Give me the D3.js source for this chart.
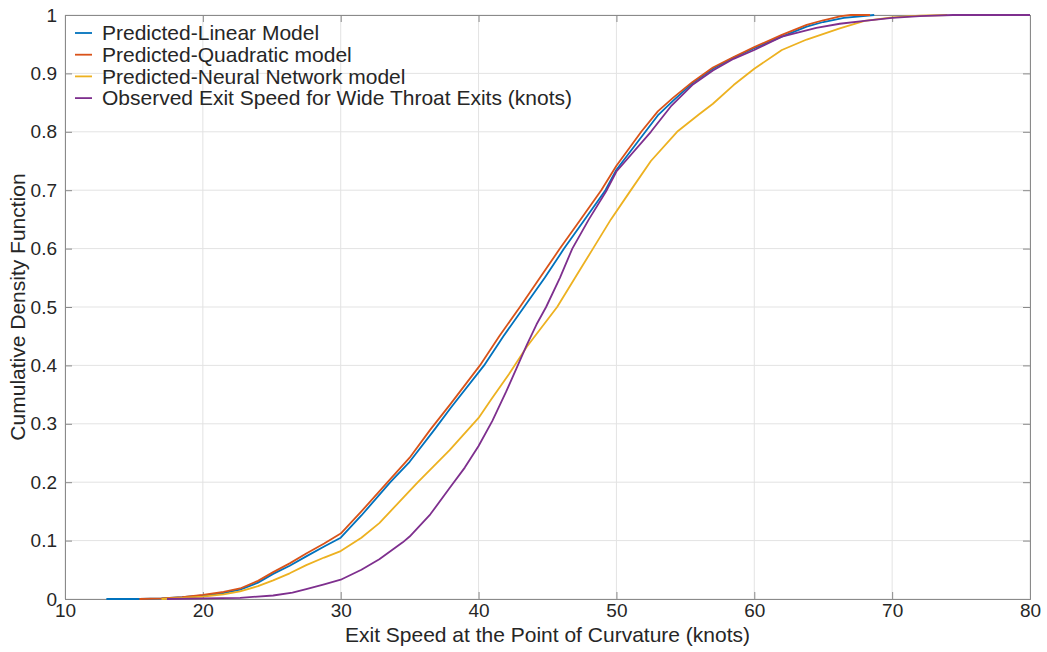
<!DOCTYPE html>
<html><head><meta charset="utf-8">
<script src="https://cdn.jsdelivr.net/npm/d3@7"></script>
<style>
html,body{margin:0;padding:0;background:#fff;}
svg text{font-family:"Liberation Sans",Arial,Helvetica,sans-serif;fill:#262626;}
</style></head>
<body><svg id="c" width="1047" height="652"></svg>
<script>
// ---- data ----
const seriesNames = ["Predicted-Linear Model","Predicted-Quadratic model","Predicted-Neural Network model","Observed Exit Speed for Wide Throat Exits (knots)"];
const seriesColors = ["#0072BD","#D95319","#EDB120","#7E2F8E"];
const xTicks = [10,20,30,40,50,60,70,80];
const yTicks = [0,0.1,0.2,0.3,0.4,0.5,0.6,0.7,0.8,0.9,1];
const yTickLabels = ["0","0.1","0.2","0.3","0.4","0.5","0.6","0.7","0.8","0.9","1"];

const linearX = [13,15.4,17,18.5,20,21.5,22.7,24,25.1,26.3,27.5,28.8,30,31.5,33.6,35,36.8,38,40.4,41.8,43.3,44.8,46.2,47.7,49.2,50,52.1,53,54.1,55.5,57,58.5,60,62,63.8,65,66.5,68.7];
const linearP = [0,0,0.001,0.003,0.006,0.010,0.016,0.028,0.043,0.057,0.073,0.09,0.105,0.143,0.2,0.235,0.29,0.328,0.4,0.45,0.5,0.55,0.6,0.65,0.7,0.735,0.8,0.828,0.853,0.883,0.908,0.927,0.943,0.963,0.98,0.988,0.995,1];

const quadX = [15.4,17,18.5,20,21.5,22.7,24,25.1,26.3,27.5,28.8,30,31.5,33.4,35,36.5,38,40.1,41.5,43,44.5,45.9,47.4,48.9,50,51.8,53,54.1,55.5,57,58.5,60,62,63.8,65,66.3,67,68.4];
const quadP = [0,0.001,0.003,0.007,0.012,0.018,0.031,0.046,0.061,0.078,0.095,0.112,0.15,0.2,0.242,0.29,0.335,0.4,0.45,0.5,0.552,0.6,0.65,0.7,0.742,0.8,0.835,0.858,0.885,0.91,0.928,0.945,0.966,0.983,0.991,0.998,1,1];

const nnX = [17,18.5,20,21.5,22.7,24,25.1,26.3,27.5,28.8,30,31.5,32.8,35,35.6,37.9,40,40.9,42.2,43.5,45.7,47,48.3,49.6,50.9,52.5,54.4,56,57,58.5,60,62,63.8,66.2,68,70,72,74];
const nnP = [0,0.002,0.004,0.008,0.013,0.022,0.032,0.044,0.058,0.071,0.082,0.105,0.13,0.185,0.2,0.255,0.31,0.341,0.385,0.432,0.5,0.55,0.6,0.65,0.695,0.75,0.8,0.83,0.848,0.88,0.908,0.94,0.958,0.977,0.99,0.996,0.999,1];

const obsX = [17.4,20,22.7,25.1,26.5,27.5,28.8,30,31.5,32.8,34.5,35,36.5,37.9,39,40,41,42,42.75,43.5,44.2,44.9,45.9,46.8,48,49.3,50,52.5,54,55.5,57,58.5,60,62,64.5,66.2,68,70,72,74.4,80];
const obsP = [0,0.001,0.002,0.006,0.011,0.017,0.025,0.033,0.05,0.068,0.097,0.107,0.145,0.19,0.225,0.262,0.305,0.355,0.395,0.435,0.47,0.5,0.55,0.6,0.65,0.7,0.732,0.8,0.845,0.88,0.905,0.925,0.94,0.963,0.978,0.985,0.99,0.995,0.998,1,1];

const seriesX = [linearX, quadX, nnX, obsX];
const seriesP = [linearP, quadP, nnP, obsP];

// ---- layout ----
const svg = d3.select("#c");
const L = 65, R = 1030, T = 15, B = 599;
const x = d3.scaleLinear().domain([10,80]).range([L,R]);
const y = d3.scaleLinear().domain([0,1]).range([B,T]);

// grid
const g = svg.append("g");
g.selectAll(".gx").data(xTicks).enter().append("line")
  .attr("x1",d=>x(d)).attr("x2",d=>x(d)).attr("y1",T).attr("y2",B)
  .attr("stroke","#e3e3e3").attr("stroke-width",1);
g.selectAll(".gy").data(yTicks).enter().append("line")
  .attr("y1",d=>y(d)).attr("y2",d=>y(d)).attr("x1",L).attr("x2",R)
  .attr("stroke","#e3e3e3").attr("stroke-width",1);

// axes (box with inward ticks)
const axCol = "#8a8a8a";
const xb = svg.append("g").attr("transform",`translate(0,${B})`)
  .call(d3.axisBottom(x).tickValues(xTicks).tickSize(-7).tickPadding(4).tickFormat(d3.format("d")));
const xt = svg.append("g").attr("transform",`translate(0,${T})`)
  .call(d3.axisTop(x).tickValues(xTicks).tickSize(-7).tickFormat(""));
const yl = svg.append("g").attr("transform",`translate(${L},0)`)
  .call(d3.axisLeft(y).tickValues(yTicks).tickSize(-7).tickPadding(8).tickFormat((d,i)=>yTickLabels[i]));
const yr = svg.append("g").attr("transform",`translate(${R},0)`)
  .call(d3.axisRight(y).tickValues(yTicks).tickSize(-7).tickFormat(""));
[xb,xt,yl,yr].forEach(a=>{
  a.selectAll("path").attr("stroke",axCol);
  a.selectAll("line").attr("stroke",axCol);
  a.selectAll("text").style("font-size","19px").attr("fill","#262626")
   .style("font-family","Liberation Sans, Arial, sans-serif");
});
xb.selectAll("text").attr("dy","0.75em");

// lines
const line = d3.line().x(d=>x(d[0])).y(d=>y(d[1]));
seriesX.forEach((xs,i)=>{
  const pts = xs.map((v,j)=>[v, seriesP[i][j]]);
  svg.append("path").datum(pts).attr("d",line)
    .attr("fill","none").attr("stroke",seriesColors[i]).attr("stroke-width",1.8)
    .attr("stroke-linejoin","round");
});

// axis labels
svg.append("text").attr("x",(L+R)/2).attr("y",642).attr("text-anchor","middle")
  .style("font-size","21px").text("Exit Speed at the Point of Curvature (knots)");
svg.append("text").attr("transform",`translate(25,${(T+B)/2}) rotate(-90)`).attr("text-anchor","middle")
  .style("font-size","21px").text("Cumulative Density Function");

// legend
const lg = svg.append("g");
seriesNames.forEach((n,i)=>{
  const yy = 33 + i*21.7;
  lg.append("line").attr("x1",75).attr("x2",92).attr("y1",yy).attr("y2",yy)
    .attr("stroke",seriesColors[i]).attr("stroke-width",1.8);
  lg.append("text").attr("x",102).attr("y",yy).attr("dy","0.35em")
    .style("font-size","21px").text(n);
});
</script></body></html>
